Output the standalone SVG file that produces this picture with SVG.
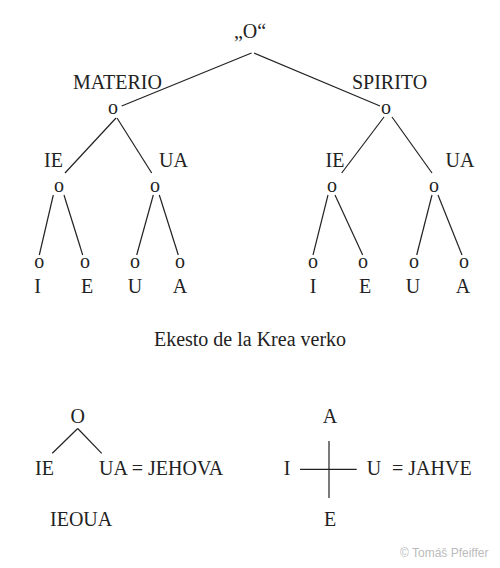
<svg xmlns="http://www.w3.org/2000/svg" width="500" height="568" viewBox="0 0 500 568">
<style>
text{font-family:"Liberation Serif","Times New Roman",serif;font-size:20px;fill:#222;text-anchor:middle}
.l{text-anchor:start}
.c{font-family:"Liberation Sans",Arial,sans-serif;font-size:12px;fill:#bbb;text-anchor:start}
line{stroke:#222;stroke-width:1.2;fill:none}
</style>
<rect width="500" height="568" fill="#fff"/>
<g id="connectors">
<line x1="251.5" y1="53" x2="121.7" y2="106"/>
<line x1="254" y1="53" x2="380" y2="106"/>
<line x1="116" y1="118" x2="65" y2="173"/>
<line x1="117" y1="118" x2="151.7" y2="173"/>
<line x1="384" y1="117" x2="341.7" y2="173"/>
<line x1="392" y1="117" x2="432" y2="173"/>
<line x1="53.3" y1="195" x2="39.3" y2="255"/>
<line x1="64" y1="195" x2="82.7" y2="255"/>
<line x1="153.3" y1="195" x2="136.7" y2="255"/>
<line x1="159.3" y1="195" x2="178.3" y2="255"/>
<line x1="328" y1="195" x2="313" y2="255"/>
<line x1="335" y1="195" x2="362.7" y2="255"/>
<line x1="432" y1="195" x2="416.7" y2="255"/>
<line x1="438" y1="195" x2="462" y2="255"/>
<line x1="77.7" y1="428.5" x2="52.3" y2="453.3"/>
<line x1="77.7" y1="428.5" x2="101.7" y2="453.3"/>
<line x1="329" y1="441" x2="329" y2="498"/>
<line x1="300" y1="469.3" x2="356.7" y2="469.3"/>
</g>
<g id="root"><text x="250" y="38">„O“</text></g>
<g id="materio"><text x="117.5" y="89">MATERIO</text><text x="113" y="114">o</text></g>
<g id="spirito"><text x="389.5" y="89">SPIRITO</text><text x="386" y="114">o</text></g>
<g id="m-ie"><text x="53.5" y="167">IE</text><text x="59" y="192">o</text></g>
<g id="m-ua"><text x="173.5" y="167">UA</text><text x="155" y="192">o</text></g>
<g id="s-ie"><text x="335" y="167">IE</text><text x="332" y="192">o</text></g>
<g id="s-ua"><text x="460" y="167">UA</text><text x="434" y="192">o</text></g>
<g id="m-i"><text x="39.3" y="268">o</text><text x="37.5" y="293">I</text></g>
<g id="m-e"><text x="85" y="268">o</text><text x="87" y="293">E</text></g>
<g id="m-u"><text x="135" y="268">o</text><text x="135" y="293">U</text></g>
<g id="m-a"><text x="180" y="268">o</text><text x="180" y="293">A</text></g>
<g id="s-i"><text x="313" y="268">o</text><text x="313" y="293">I</text></g>
<g id="s-e"><text x="363" y="268">o</text><text x="365" y="293">E</text></g>
<g id="s-u"><text x="414" y="268">o</text><text x="413" y="293">U</text></g>
<g id="s-a"><text x="464" y="268">o</text><text x="463" y="293">A</text></g>
<g id="caption"><text x="250" y="346">Ekesto de la Krea verko</text></g>
<g id="jehova">
<text x="77.7" y="423.3">O</text>
<text class="l" x="35" y="475">IE</text>
<text class="l" x="99" y="475">UA = JEHOVA</text>
<text class="l" x="50" y="525.7">IEOUA</text>
</g>
<g id="jahve">
<text x="330" y="423.3">A</text>
<text x="287" y="475">I</text>
<text x="374" y="475">U</text>
<text class="l" x="392" y="475">= JAHVE</text>
<text x="330" y="525.7">E</text>
</g>
<text class="c" x="400" y="557">© Tomáš Pfeiffer</text>
</svg>
